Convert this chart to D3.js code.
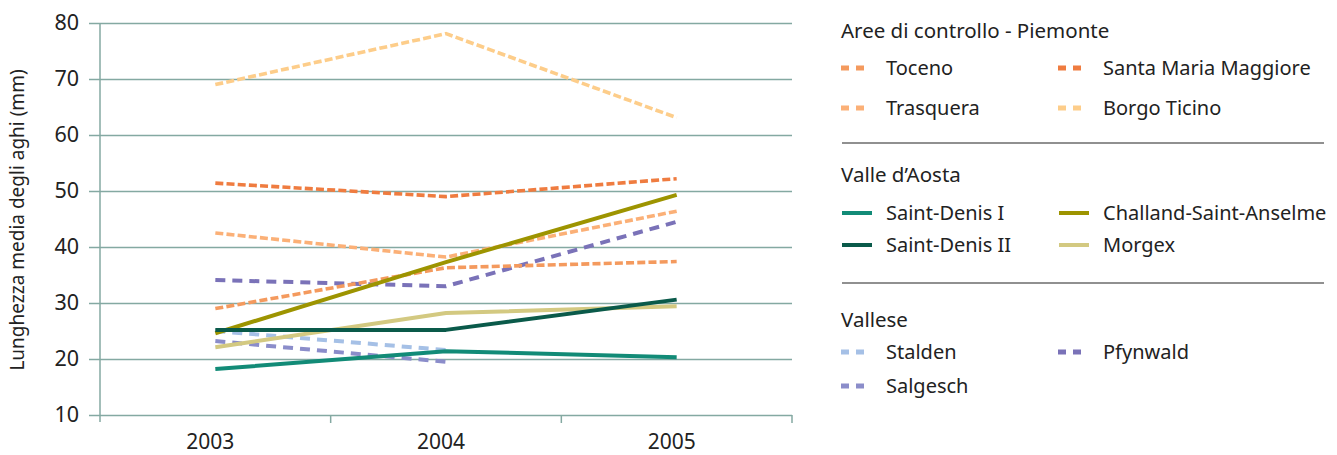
<!DOCTYPE html>
<html>
<head>
<meta charset="utf-8">
<script src="https://cdn.jsdelivr.net/npm/d3@7"></script>
<style>
  html, body { margin: 0; padding: 0; background: #fff; }
  svg { display: block; }
  text { font-family: "Noto Sans", "Open Sans", sans-serif; fill: #222; }
</style>
</head>
<body>
<svg id="chart" width="1337" height="455"></svg>
<script>
// ---------- DATA ----------
const years = ["2003", "2004", "2005"];
const yTicks = [10, 20, 30, 40, 50, 60, 70, 80];
const yTitle = "Lunghezza media degli aghi (mm)";

const groupTitles = ["Aree di controllo - Piemonte", "Valle d\u2019Aosta", "Vallese"];

const toceno      = [29.0, 36.3, 37.4];
const santaMaria  = [51.4, 49.0, 52.2];
const trasquera   = [42.5, 38.2, 46.4];
const borgoTicino = [69.0, 78.1, 63.1];

const saintDenisI  = [18.2, 21.4, 20.3];
const saintDenisII = [25.2, 25.2, 30.6];
const challand     = [24.6, 37.3, 49.3];
const morgex       = [22.1, 28.2, 29.4];

const stalden  = [25.0, 21.6, null];
const salgesch = [23.2, 19.5, null];
const pfynwald = [34.1, 33.0, 44.5];

// ---------- SERIES (style + legend slot) ----------
const dashP = "8,3.2";
const dashV = "10,7";
const series = [
  {name: "Stalden", values: stalden, color: "#A5C0E6", dash: dashV, w: 4, g: 2, col: 0, row: 0},
  {name: "Salgesch", values: salgesch, color: "#8B8DCA", dash: dashV, w: 4, g: 2, col: 0, row: 1},
  {name: "Pfynwald", values: pfynwald, color: "#7A72B8", dash: dashV, w: 4, g: 2, col: 1, row: 0},
  {name: "Toceno", values: toceno, color: "#F49A5E", dash: dashP, w: 3.6, g: 0, col: 0, row: 0},
  {name: "Santa Maria Maggiore", values: santaMaria, color: "#EF7C40", dash: dashP, w: 3.6, g: 0, col: 1, row: 0},
  {name: "Trasquera", values: trasquera, color: "#FBB077", dash: dashP, w: 3.6, g: 0, col: 0, row: 1},
  {name: "Borgo Ticino", values: borgoTicino, color: "#FDCD8A", dash: dashP, w: 3.6, g: 0, col: 1, row: 1},
  {name: "Morgex", values: morgex, color: "#D3C981", dash: null, w: 4, g: 1, col: 1, row: 1},
  {name: "Saint-Denis I", values: saintDenisI, color: "#128B77", dash: null, w: 4, g: 1, col: 0, row: 0},
  {name: "Challand-Saint-Anselme", values: challand, color: "#9D9400", dash: null, w: 4, g: 1, col: 1, row: 0},
  {name: "Saint-Denis II", values: saintDenisII, color: "#0A5A4A", dash: null, w: 4, g: 1, col: 0, row: 1}
];

// ---------- LAYOUT ----------
const svg = d3.select("#chart");
const plot = {left: 100, right: 792, top: 23, bottom: 415};
const gridColor = "#84A9A2";

const x = d3.scaleBand().domain(years).range([plot.left, plot.right]);
const y = d3.scaleLinear().domain([10, 80]).range([plot.bottom, plot.top]);

// gridlines + y ticks
const gy = svg.append("g")
  .attr("transform", `translate(${plot.left},0)`)
  .call(d3.axisLeft(y).tickValues(yTicks).tickSize(11).tickSizeOuter(0).tickPadding(10));
gy.select(".domain").remove();
gy.selectAll(".tick line").attr("stroke", gridColor).attr("stroke-width", 1.5)
  .attr("x1", -11).attr("x2", plot.right - plot.left);
gy.selectAll(".tick text").attr("x", -21).style("font-size", "21.5px").style("fill", "#222");

// y axis vertical line
svg.append("line")
  .attr("x1", plot.left).attr("x2", plot.left)
  .attr("y1", y(80)).attr("y2", plot.bottom + 7)
  .attr("stroke", gridColor).attr("stroke-width", 1.5);

// x axis: ticks at band boundaries
const boundaries = years.map(d => x(d)).concat([x(years[years.length - 1]) + x.bandwidth()]).slice(1);
svg.append("g").selectAll("line").data(boundaries).join("line")
  .attr("x1", d => d).attr("x2", d => d)
  .attr("y1", plot.bottom).attr("y2", plot.bottom + 8)
  .attr("stroke", gridColor).attr("stroke-width", 1.5);
svg.append("g").selectAll("text").data(years).join("text")
  .attr("x", d => x(d) + x.bandwidth() / 2 - 5)
  .attr("y", 449)
  .attr("text-anchor", "middle")
  .style("font-size", "21px")
  .text(d => d);

// y title
svg.append("text")
  .attr("transform", `translate(24, ${(plot.top + plot.bottom) / 2 + 1}) rotate(-90)`)
  .attr("text-anchor", "middle")
  .style("font-size", "19px")
  .text(yTitle);

// lines
const line = d3.line()
  .defined(d => d.v !== null)
  .x(d => x(d.year) + x.bandwidth() / 2)
  .y(d => y(d.v));

svg.append("g").selectAll("path").data(series).join("path")
  .attr("d", s => line(s.values.map((v, i) => ({year: years[i], v}))))
  .attr("fill", "none")
  .attr("stroke", s => s.color)
  .attr("stroke-width", s => s.w)
  .attr("stroke-dasharray", s => s.dash)
  .attr("stroke-linejoin", "round");

// ---------- LEGEND ----------
const legendLayout = [
  {titleY: 38, rows: [68, 108], sepY: 143},
  {titleY: 182, rows: [213, 245], sepY: 283},
  {titleY: 327, rows: [352, 386], sepY: null}
];
const colX = [841, 1058];
const textX = [886, 1103];
const lg = svg.append("g");
groupTitles.forEach((t, gi) => {
  const L = legendLayout[gi];
  lg.append("text").attr("x", 841).attr("y", L.titleY).style("font-size", "20.5px").text(t);
  if (L.sepY !== null) {
    lg.append("line").attr("x1", 842).attr("x2", 1324).attr("y1", L.sepY).attr("y2", L.sepY)
      .attr("stroke", "#222").attr("stroke-width", 1.2);
  }
  series.filter(s => s.g === gi).forEach(s => {
    const cy = L.rows[s.row];
    const x0 = colX[s.col];
    if (s.dash) {
      lg.append("line").attr("x1", x0).attr("x2", x0 + 24).attr("y1", cy).attr("y2", cy)
        .attr("stroke", s.color).attr("stroke-width", 5).attr("stroke-dasharray", "8,7");
    } else {
      lg.append("line").attr("x1", x0 + 1).attr("x2", x0 + 31).attr("y1", cy).attr("y2", cy)
        .attr("stroke", s.color).attr("stroke-width", 4);
    }
    lg.append("text").attr("x", textX[s.col]).attr("y", cy + 7).style("font-size", "20px").text(s.name);
  });
});
</script>
</body>
</html>
